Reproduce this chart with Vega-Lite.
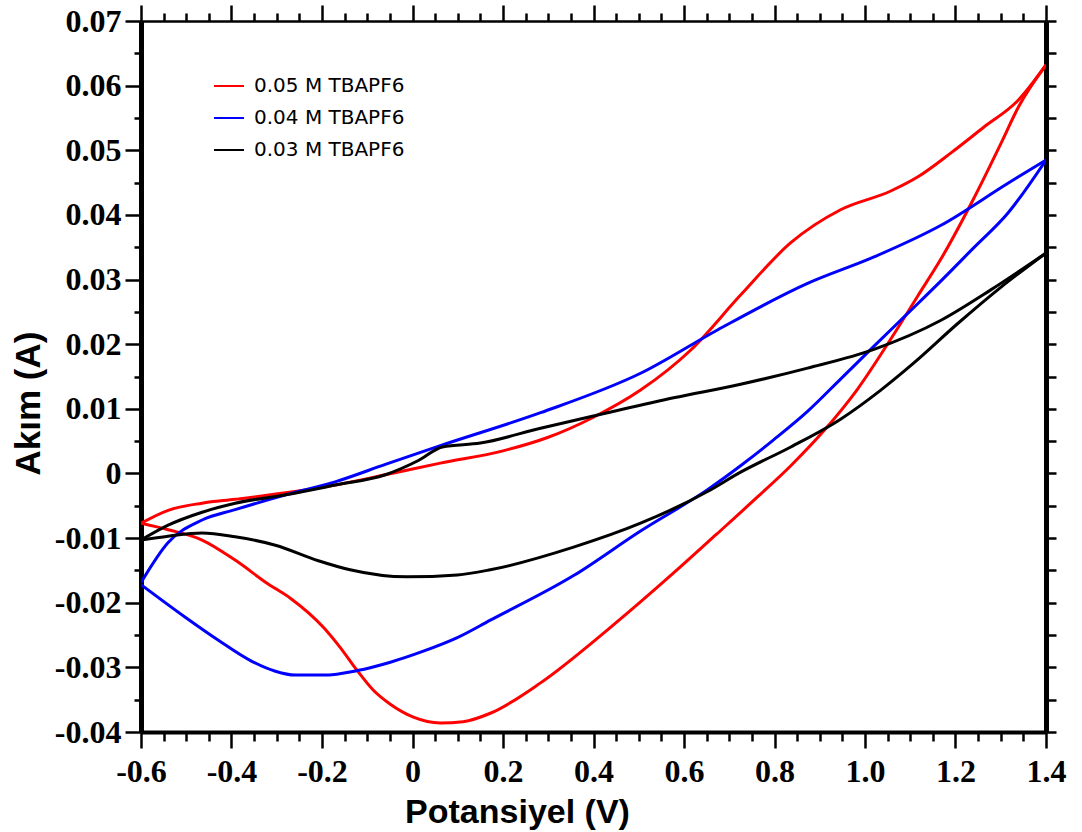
{
  "$schema": "https://vega.github.io/schema/vega-lite/v6.json",
  "width": 905,
  "height": 711,
  "autosize": {"type": "none"},
  "padding": {"left": 141, "top": 21, "right": 36, "bottom": 100},
  "background": "white",
  "config": {"view": {"stroke": null}, "axis": {"grid": false}},
  "datasets": {
    "cv": [
      {"s": "0.05 M TBAPF6", "b": "u", "v": -0.6, "a": -0.0077},
      {"s": "0.05 M TBAPF6", "b": "u", "v": -0.54, "a": -0.0057},
      {"s": "0.05 M TBAPF6", "b": "u", "v": -0.465, "a": -0.0046},
      {"s": "0.05 M TBAPF6", "b": "u", "v": -0.392, "a": -0.004},
      {"s": "0.05 M TBAPF6", "b": "u", "v": -0.28, "a": -0.003},
      {"s": "0.05 M TBAPF6", "b": "u", "v": -0.171, "a": -0.0018},
      {"s": "0.05 M TBAPF6", "b": "u", "v": -0.06, "a": -0.0002},
      {"s": "0.05 M TBAPF6", "b": "u", "v": 0.0615, "a": 0.0016},
      {"s": "0.05 M TBAPF6", "b": "u", "v": 0.2, "a": 0.0035},
      {"s": "0.05 M TBAPF6", "b": "u", "v": 0.3, "a": 0.0056},
      {"s": "0.05 M TBAPF6", "b": "u", "v": 0.4, "a": 0.0087},
      {"s": "0.05 M TBAPF6", "b": "u", "v": 0.504, "a": 0.0129},
      {"s": "0.05 M TBAPF6", "b": "u", "v": 0.615, "a": 0.0191},
      {"s": "0.05 M TBAPF6", "b": "u", "v": 0.725, "a": 0.0276},
      {"s": "0.05 M TBAPF6", "b": "u", "v": 0.836, "a": 0.0357},
      {"s": "0.05 M TBAPF6", "b": "u", "v": 0.946, "a": 0.0408},
      {"s": "0.05 M TBAPF6", "b": "u", "v": 1.057, "a": 0.0437},
      {"s": "0.05 M TBAPF6", "b": "u", "v": 1.117, "a": 0.0459},
      {"s": "0.05 M TBAPF6", "b": "u", "v": 1.19, "a": 0.0496},
      {"s": "0.05 M TBAPF6", "b": "u", "v": 1.263, "a": 0.0536},
      {"s": "0.05 M TBAPF6", "b": "u", "v": 1.338, "a": 0.0577},
      {"s": "0.05 M TBAPF6", "b": "u", "v": 1.4, "a": 0.0632},
      {"s": "0.05 M TBAPF6", "b": "l", "v": 1.4, "a": 0.0632},
      {"s": "0.05 M TBAPF6", "b": "l", "v": 1.34, "a": 0.0568},
      {"s": "0.05 M TBAPF6", "b": "l", "v": 1.3, "a": 0.051},
      {"s": "0.05 M TBAPF6", "b": "l", "v": 1.24, "a": 0.0425},
      {"s": "0.05 M TBAPF6", "b": "l", "v": 1.168, "a": 0.0332},
      {"s": "0.05 M TBAPF6", "b": "l", "v": 1.117, "a": 0.0275},
      {"s": "0.05 M TBAPF6", "b": "l", "v": 1.057, "a": 0.0208},
      {"s": "0.05 M TBAPF6", "b": "l", "v": 0.984, "a": 0.0131},
      {"s": "0.05 M TBAPF6", "b": "l", "v": 0.909, "a": 0.0066},
      {"s": "0.05 M TBAPF6", "b": "l", "v": 0.836, "a": 0.0012},
      {"s": "0.05 M TBAPF6", "b": "l", "v": 0.763, "a": -0.0036},
      {"s": "0.05 M TBAPF6", "b": "l", "v": 0.672, "a": -0.0094},
      {"s": "0.05 M TBAPF6", "b": "l", "v": 0.577, "a": -0.0154},
      {"s": "0.05 M TBAPF6", "b": "l", "v": 0.431, "a": -0.0242},
      {"s": "0.05 M TBAPF6", "b": "l", "v": 0.283, "a": -0.0324},
      {"s": "0.05 M TBAPF6", "b": "l", "v": 0.172, "a": -0.0371},
      {"s": "0.05 M TBAPF6", "b": "l", "v": 0.112, "a": -0.0384},
      {"s": "0.05 M TBAPF6", "b": "l", "v": 0.061, "a": -0.0386},
      {"s": "0.05 M TBAPF6", "b": "l", "v": 0.002, "a": -0.0377},
      {"s": "0.05 M TBAPF6", "b": "l", "v": -0.049, "a": -0.0357},
      {"s": "0.05 M TBAPF6", "b": "l", "v": -0.087, "a": -0.0335},
      {"s": "0.05 M TBAPF6", "b": "l", "v": -0.122, "a": -0.0305},
      {"s": "0.05 M TBAPF6", "b": "l", "v": -0.16, "a": -0.0269},
      {"s": "0.05 M TBAPF6", "b": "l", "v": -0.197, "a": -0.0238},
      {"s": "0.05 M TBAPF6", "b": "l", "v": -0.27, "a": -0.0193},
      {"s": "0.05 M TBAPF6", "b": "l", "v": -0.319, "a": -0.0171},
      {"s": "0.05 M TBAPF6", "b": "l", "v": -0.392, "a": -0.0134},
      {"s": "0.05 M TBAPF6", "b": "l", "v": -0.465, "a": -0.0103},
      {"s": "0.05 M TBAPF6", "b": "l", "v": -0.54, "a": -0.0087},
      {"s": "0.05 M TBAPF6", "b": "l", "v": -0.6, "a": -0.0077},
      {"s": "0.04 M TBAPF6", "b": "u", "v": -0.6, "a": -0.0169},
      {"s": "0.04 M TBAPF6", "b": "u", "v": -0.54, "a": -0.0107},
      {"s": "0.04 M TBAPF6", "b": "u", "v": -0.465, "a": -0.0072},
      {"s": "0.04 M TBAPF6", "b": "u", "v": -0.392, "a": -0.0056},
      {"s": "0.04 M TBAPF6", "b": "u", "v": -0.28, "a": -0.0033},
      {"s": "0.04 M TBAPF6", "b": "u", "v": -0.171, "a": -0.0013},
      {"s": "0.04 M TBAPF6", "b": "u", "v": -0.06, "a": 0.0014},
      {"s": "0.04 M TBAPF6", "b": "u", "v": 0.0615, "a": 0.0043},
      {"s": "0.04 M TBAPF6", "b": "u", "v": 0.283, "a": 0.0094},
      {"s": "0.04 M TBAPF6", "b": "u", "v": 0.504, "a": 0.0155},
      {"s": "0.04 M TBAPF6", "b": "u", "v": 0.674, "a": 0.0222},
      {"s": "0.04 M TBAPF6", "b": "u", "v": 0.873, "a": 0.0294},
      {"s": "0.04 M TBAPF6", "b": "u", "v": 1.02, "a": 0.0335},
      {"s": "0.04 M TBAPF6", "b": "u", "v": 1.168, "a": 0.0384},
      {"s": "0.04 M TBAPF6", "b": "u", "v": 1.316, "a": 0.0449},
      {"s": "0.04 M TBAPF6", "b": "u", "v": 1.4, "a": 0.0485},
      {"s": "0.04 M TBAPF6", "b": "l", "v": 1.4, "a": 0.0485},
      {"s": "0.04 M TBAPF6", "b": "l", "v": 1.316, "a": 0.0403},
      {"s": "0.04 M TBAPF6", "b": "l", "v": 1.24, "a": 0.0349},
      {"s": "0.04 M TBAPF6", "b": "l", "v": 1.168, "a": 0.0298},
      {"s": "0.04 M TBAPF6", "b": "l", "v": 1.095, "a": 0.0248},
      {"s": "0.04 M TBAPF6", "b": "l", "v": 1.02, "a": 0.0197},
      {"s": "0.04 M TBAPF6", "b": "l", "v": 0.946, "a": 0.0146},
      {"s": "0.04 M TBAPF6", "b": "l", "v": 0.873, "a": 0.0096},
      {"s": "0.04 M TBAPF6", "b": "l", "v": 0.798, "a": 0.0052},
      {"s": "0.04 M TBAPF6", "b": "l", "v": 0.725, "a": 0.0012},
      {"s": "0.04 M TBAPF6", "b": "l", "v": 0.652, "a": -0.0025},
      {"s": "0.04 M TBAPF6", "b": "l", "v": 0.504, "a": -0.0089},
      {"s": "0.04 M TBAPF6", "b": "l", "v": 0.356, "a": -0.0158},
      {"s": "0.04 M TBAPF6", "b": "l", "v": 0.172, "a": -0.0227},
      {"s": "0.04 M TBAPF6", "b": "l", "v": 0.099, "a": -0.0254},
      {"s": "0.04 M TBAPF6", "b": "l", "v": 0.024, "a": -0.0275},
      {"s": "0.04 M TBAPF6", "b": "l", "v": -0.049, "a": -0.0292},
      {"s": "0.04 M TBAPF6", "b": "l", "v": -0.122, "a": -0.0305},
      {"s": "0.04 M TBAPF6", "b": "l", "v": -0.197, "a": -0.0312},
      {"s": "0.04 M TBAPF6", "b": "l", "v": -0.26, "a": -0.0312},
      {"s": "0.04 M TBAPF6", "b": "l", "v": -0.303, "a": -0.0306},
      {"s": "0.04 M TBAPF6", "b": "l", "v": -0.354, "a": -0.0291},
      {"s": "0.04 M TBAPF6", "b": "l", "v": -0.429, "a": -0.0258},
      {"s": "0.04 M TBAPF6", "b": "l", "v": -0.503, "a": -0.0222},
      {"s": "0.04 M TBAPF6", "b": "l", "v": -0.6, "a": -0.0172},
      {"s": "0.03 M TBAPF6", "b": "u", "v": -0.6, "a": -0.0103},
      {"s": "0.03 M TBAPF6", "b": "u", "v": -0.54, "a": -0.008},
      {"s": "0.03 M TBAPF6", "b": "u", "v": -0.465, "a": -0.006},
      {"s": "0.03 M TBAPF6", "b": "u", "v": -0.392, "a": -0.0046},
      {"s": "0.03 M TBAPF6", "b": "u", "v": -0.28, "a": -0.0033},
      {"s": "0.03 M TBAPF6", "b": "u", "v": -0.171, "a": -0.0018},
      {"s": "0.03 M TBAPF6", "b": "u", "v": -0.06, "a": -0.0002},
      {"s": "0.03 M TBAPF6", "b": "u", "v": 0.013, "a": 0.002},
      {"s": "0.03 M TBAPF6", "b": "u", "v": 0.066, "a": 0.0041},
      {"s": "0.03 M TBAPF6", "b": "u", "v": 0.15, "a": 0.0047},
      {"s": "0.03 M TBAPF6", "b": "u", "v": 0.283, "a": 0.007},
      {"s": "0.03 M TBAPF6", "b": "u", "v": 0.431, "a": 0.0094},
      {"s": "0.03 M TBAPF6", "b": "u", "v": 0.577, "a": 0.0117},
      {"s": "0.03 M TBAPF6", "b": "u", "v": 0.725, "a": 0.0138},
      {"s": "0.03 M TBAPF6", "b": "u", "v": 0.873, "a": 0.0163},
      {"s": "0.03 M TBAPF6", "b": "u", "v": 1.02, "a": 0.0192},
      {"s": "0.03 M TBAPF6", "b": "u", "v": 1.168, "a": 0.0237},
      {"s": "0.03 M TBAPF6", "b": "u", "v": 1.278, "a": 0.0284},
      {"s": "0.03 M TBAPF6", "b": "u", "v": 1.4, "a": 0.0341},
      {"s": "0.03 M TBAPF6", "b": "l", "v": 1.4, "a": 0.0341},
      {"s": "0.03 M TBAPF6", "b": "l", "v": 1.3, "a": 0.0288},
      {"s": "0.03 M TBAPF6", "b": "l", "v": 1.205, "a": 0.0232},
      {"s": "0.03 M TBAPF6", "b": "l", "v": 1.108, "a": 0.0171},
      {"s": "0.03 M TBAPF6", "b": "l", "v": 1.035, "a": 0.0129},
      {"s": "0.03 M TBAPF6", "b": "l", "v": 0.946, "a": 0.0084},
      {"s": "0.03 M TBAPF6", "b": "l", "v": 0.836, "a": 0.0041},
      {"s": "0.03 M TBAPF6", "b": "l", "v": 0.725, "a": 0.0002},
      {"s": "0.03 M TBAPF6", "b": "l", "v": 0.652, "a": -0.0028},
      {"s": "0.03 M TBAPF6", "b": "l", "v": 0.504, "a": -0.0077},
      {"s": "0.03 M TBAPF6", "b": "l", "v": 0.356, "a": -0.0114},
      {"s": "0.03 M TBAPF6", "b": "l", "v": 0.172, "a": -0.0149},
      {"s": "0.03 M TBAPF6", "b": "l", "v": 0.099, "a": -0.0157},
      {"s": "0.03 M TBAPF6", "b": "l", "v": -0.012, "a": -0.016},
      {"s": "0.03 M TBAPF6", "b": "l", "v": -0.138, "a": -0.0149},
      {"s": "0.03 M TBAPF6", "b": "l", "v": -0.208, "a": -0.0135},
      {"s": "0.03 M TBAPF6", "b": "l", "v": -0.303, "a": -0.0111},
      {"s": "0.03 M TBAPF6", "b": "l", "v": -0.392, "a": -0.0098},
      {"s": "0.03 M TBAPF6", "b": "l", "v": -0.465, "a": -0.0092},
      {"s": "0.03 M TBAPF6", "b": "l", "v": -0.54, "a": -0.0097},
      {"s": "0.03 M TBAPF6", "b": "l", "v": -0.6, "a": -0.0103}
    ]
  },
  "data": {"name": "cv"},
  "layer": [
    {
      "mark": {"type": "line", "strokeWidth": 3, "clip": true, "interpolate": "monotone"},
      "encoding": {
        "x": {
          "field": "v", "type": "quantitative",
          "scale": {"domain": [-0.6, 1.4], "nice": false, "zero": false},
          "axis": {
            "orient": "bottom",
            "values": [-0.6,-0.55,-0.5,-0.45,-0.4,-0.35,-0.3,-0.25,-0.2,-0.15,-0.1,-0.05,0,0.05,0.1,0.15,0.2,0.25,0.3,0.35,0.4,0.45,0.5,0.55,0.6,0.65,0.7,0.75,0.8,0.85,0.9,0.95,1,1.05,1.1,1.15,1.2,1.25,1.3,1.35,1.4],
            "labelExpr": "abs(datum.value*5-round(datum.value*5))<0.001 ? (abs(datum.value)<0.001 ? '0' : (datum.value<0 ? '-' : '') + format(abs(datum.value), '.1f')) : ''",
            "tickSize": {"condition": {"test": "abs(datum.value*5-round(datum.value*5))<0.001", "value": 16}, "value": 9},
            "tickWidth": 2.5, "tickColor": "black",
            "domainColor": "black", "domainWidth": 4,
            "labelFont": "Liberation Serif", "labelFontWeight": "bold", "labelFontSize": 32, "labelColor": "black",
            "labelPadding": 8, "labelOverlap": false, "labelFlush": false, "labelBound": false,
            "title": "Potansiyel (V)",
            "titleFont": "Liberation Sans", "titleFontSize": 34, "titleFontWeight": "bold", "titleColor": "black",
            "titleX": 376, "titleY": 90, "titleAlign": "center", "titleBaseline": "alphabetic"
          }
        },
        "y": {
          "field": "a", "type": "quantitative",
          "scale": {"domain": [-0.04, 0.07], "nice": false, "zero": false},
          "axis": {
            "orient": "left",
            "values": [-0.04,-0.035,-0.03,-0.025,-0.02,-0.015,-0.01,-0.005,0,0.005,0.01,0.015,0.02,0.025,0.03,0.035,0.04,0.045,0.05,0.055,0.06,0.065,0.07],
            "labelExpr": "abs(datum.value*100-round(datum.value*100))<0.001 ? (abs(datum.value)<0.0001 ? '0' : (datum.value<0 ? '-' : '') + format(abs(datum.value), '.2f')) : ''",
            "tickSize": {"condition": {"test": "abs(datum.value*100-round(datum.value*100))<0.001", "value": 16}, "value": 7},
            "tickWidth": 2.5, "tickColor": "black",
            "domainColor": "black", "domainWidth": 5,
            "labelFont": "Liberation Serif", "labelFontWeight": "bold", "labelFontSize": 32, "labelColor": "black",
            "labelPadding": 4, "labelOverlap": false, "labelFlush": false, "labelBound": false,
            "title": "Akım (A)",
            "titleFont": "Liberation Sans", "titleFontSize": 35, "titleFontWeight": "bold", "titleColor": "black",
            "titleAngle": -90, "titleX": -102, "titleY": 382, "titleAlign": "center", "titleBaseline": "alphabetic"
          }
        },
        "color": {
          "field": "s", "type": "nominal",
          "scale": {"domain": ["0.05 M TBAPF6", "0.04 M TBAPF6", "0.03 M TBAPF6"], "range": ["#ff0000", "#0000ff", "#000000"]},
          "legend": {
            "orient": "none", "legendX": 72, "legendY": 49, "title": null, "padding": 0,
            "symbolType": "stroke", "symbolSize": 900, "symbolStrokeWidth": 2,
            "labelFont": "DejaVu Sans", "labelFontSize": 20, "labelColor": "black", "labelLimit": 500,
            "labelOffset": 9, "rowPadding": 6
          }
        },
        "detail": {"field": "b", "type": "nominal"},
        "order": {"field": "v", "type": "quantitative"}
      }
    },
    {
      "mark": {"type": "point", "opacity": 0},
      "encoding": {
        "x": {
          "field": "v", "type": "quantitative",
          "axis": {
            "orient": "top",
            "values": [-0.6,-0.55,-0.5,-0.45,-0.4,-0.35,-0.3,-0.25,-0.2,-0.15,-0.1,-0.05,0,0.05,0.1,0.15,0.2,0.25,0.3,0.35,0.4,0.45,0.5,0.55,0.6,0.65,0.7,0.75,0.8,0.85,0.9,0.95,1,1.05,1.1,1.15,1.2,1.25,1.3,1.35,1.4],
            "labels": false, "title": null,
            "tickSize": {"condition": {"test": "abs(datum.value*5-round(datum.value*5))<0.001", "value": 16}, "value": 8},
            "tickWidth": 2.5, "tickColor": "black",
            "domainColor": "black", "domainWidth": 2.5
          }
        },
        "y": {
          "field": "a", "type": "quantitative",
          "axis": {
            "orient": "right",
            "values": [-0.04,-0.035,-0.03,-0.025,-0.02,-0.015,-0.01,-0.005,0,0.005,0.01,0.015,0.02,0.025,0.03,0.035,0.04,0.045,0.05,0.055,0.06,0.065,0.07],
            "labels": false, "title": null,
            "tickSize": 10, "tickWidth": 2.5, "tickColor": "black",
            "domainColor": "black", "domainWidth": 5
          }
        }
      }
    }
  ]
}
